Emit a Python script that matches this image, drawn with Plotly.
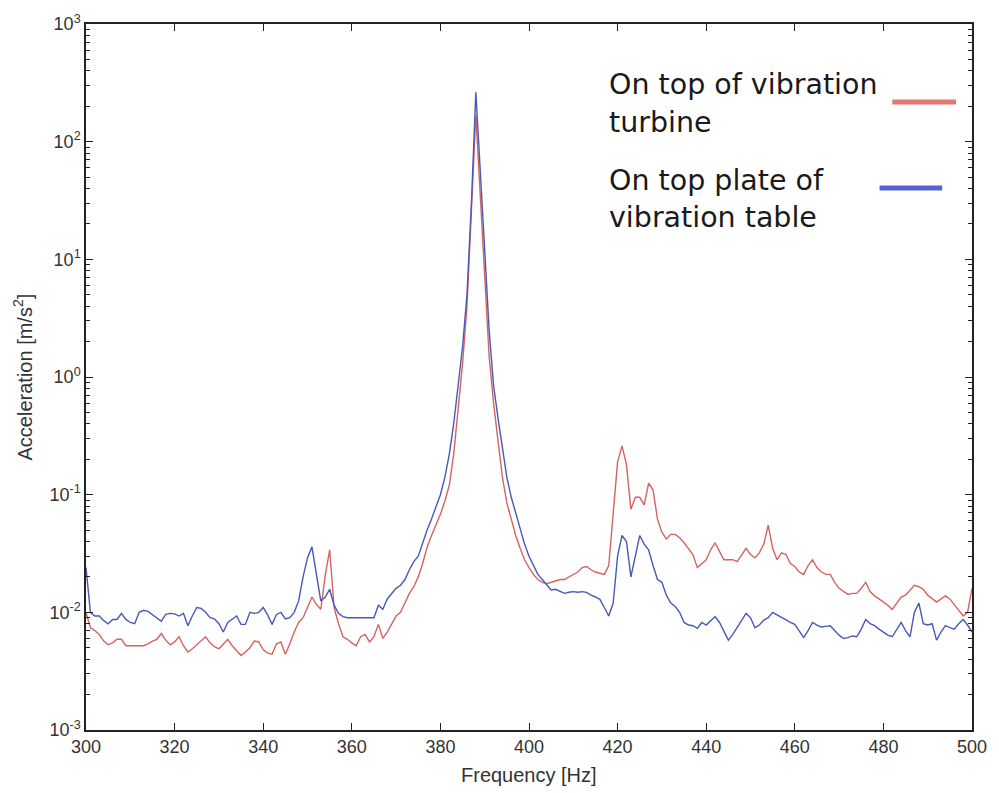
import plotly.graph_objects as go

freq_hz = list(range(300, 501))

table_acc = [
    0.024, 0.010, 0.0093, 0.0093, 0.0085, 0.0080, 0.0087, 0.0087, 0.0098, 0.0087,
    0.0082, 0.0080, 0.0100, 0.0104, 0.0102, 0.0096, 0.0090, 0.0084, 0.0096, 0.0098,
    0.0097, 0.0093, 0.0098, 0.0077, 0.0093, 0.0110, 0.0108, 0.0100, 0.0090, 0.0088,
    0.0080, 0.0068, 0.0082, 0.0088, 0.0093, 0.0079, 0.0079, 0.0100, 0.0098, 0.0100,
    0.0110, 0.0095, 0.0079, 0.0096, 0.0100, 0.0088, 0.0090, 0.0100, 0.0125, 0.0200,
    0.0290, 0.0360, 0.0210, 0.0125, 0.0135, 0.0157, 0.0115, 0.0098, 0.0092, 0.0090,
    0.0090, 0.0090, 0.0090, 0.0090, 0.0090, 0.0090, 0.0115, 0.0106, 0.0130, 0.0145,
    0.0160, 0.0170, 0.0190, 0.0230, 0.0270, 0.0300, 0.0390, 0.050, 0.062, 0.080,
    0.100, 0.140, 0.22, 0.40, 0.80, 1.8, 5.0, 30, 263, 50,
    12, 2.5, 0.85, 0.45, 0.25, 0.14, 0.095, 0.070, 0.050, 0.038,
    0.030, 0.025, 0.021, 0.019, 0.017, 0.0155, 0.0157, 0.015, 0.0145, 0.0148,
    0.015, 0.0148, 0.015, 0.0148, 0.014, 0.0135, 0.0129, 0.011, 0.0093, 0.012,
    0.030, 0.045, 0.040, 0.020, 0.030, 0.045, 0.038, 0.034, 0.025, 0.019,
    0.018, 0.014, 0.0120, 0.0112, 0.0100, 0.0082, 0.0078, 0.0077, 0.0073, 0.0082,
    0.0078, 0.0085, 0.0092, 0.0082, 0.0070, 0.0058, 0.0065, 0.0075, 0.0085, 0.0098,
    0.0090, 0.0074, 0.0078, 0.0086, 0.0090, 0.0100, 0.0095, 0.0090, 0.0086, 0.0082,
    0.0079, 0.0070, 0.0061, 0.0070, 0.0082, 0.0078, 0.0075, 0.0076, 0.0077, 0.0070,
    0.0064, 0.0060, 0.0061, 0.0063, 0.0062, 0.0072, 0.0087, 0.0080, 0.0077, 0.0072,
    0.0068, 0.0064, 0.0062, 0.0072, 0.0082, 0.0070, 0.0062, 0.0100, 0.0120, 0.0080,
    0.0078, 0.0080, 0.0058, 0.0068, 0.0077, 0.0074, 0.0072, 0.0080, 0.0087, 0.0078,
    0.0068,
]

turbine_acc = [
    0.0100, 0.0074, 0.0070, 0.0065, 0.0057, 0.0053, 0.0055, 0.0059, 0.0059, 0.0052,
    0.0052, 0.0052, 0.0052, 0.0052, 0.0054, 0.0057, 0.0059, 0.0066, 0.0058, 0.0053,
    0.0056, 0.0062, 0.0052, 0.0046, 0.0049, 0.0053, 0.0058, 0.0062, 0.0055, 0.0051,
    0.0049, 0.0054, 0.0059, 0.0052, 0.0047, 0.0043, 0.0046, 0.0050, 0.0057, 0.0056,
    0.0048, 0.0045, 0.0044, 0.0054, 0.0056, 0.0044, 0.0054, 0.0068, 0.0082, 0.0090,
    0.0110, 0.0135, 0.0117, 0.0106, 0.0205, 0.0340, 0.0110, 0.0080, 0.0062, 0.0059,
    0.0055, 0.0052, 0.0062, 0.0065, 0.0056, 0.0062, 0.0079, 0.0060, 0.0068, 0.0080,
    0.0093, 0.0100, 0.0120, 0.0145, 0.0165, 0.0200, 0.0260, 0.0360, 0.045, 0.055,
    0.068, 0.088, 0.12, 0.22, 0.50, 1.3, 4.0, 25, 169, 35,
    7.0, 1.5, 0.60, 0.28, 0.14, 0.085, 0.060, 0.045, 0.035, 0.028,
    0.024, 0.021, 0.019, 0.018, 0.0175, 0.018, 0.0185, 0.019, 0.019, 0.020,
    0.021, 0.022, 0.024, 0.0245, 0.023, 0.022, 0.0215, 0.021, 0.025, 0.070,
    0.19, 0.26, 0.18, 0.075, 0.095, 0.095, 0.082, 0.125, 0.11, 0.062,
    0.048, 0.042, 0.046, 0.046, 0.043, 0.039, 0.035, 0.031, 0.024, 0.026,
    0.028, 0.034, 0.039, 0.033, 0.028, 0.028, 0.028, 0.027, 0.031, 0.035,
    0.031, 0.029, 0.032, 0.038, 0.055, 0.035, 0.028, 0.032, 0.031, 0.026,
    0.0245, 0.022, 0.021, 0.025, 0.028, 0.024, 0.022, 0.021, 0.021, 0.018,
    0.016, 0.015, 0.0142, 0.0145, 0.0145, 0.016, 0.018, 0.015, 0.0138, 0.013,
    0.0123, 0.0115, 0.0106, 0.012, 0.0135, 0.014, 0.0155, 0.017, 0.0165, 0.0157,
    0.014, 0.013, 0.0122, 0.013, 0.0138, 0.013, 0.0117, 0.0105, 0.0093, 0.0100,
    0.0160,
]

legend_lines = [["On top of vibration", "turbine"], ["On top plate of", "vibration table"]]
y_tick_vals = [1e-3, 1e-2, 1e-1, 1e0, 1e1, 1e2, 1e3]
y_tick_text = ["10<sup>-3</sup>", "10<sup>-2</sup>", "10<sup>-1</sup>", "10<sup>0</sup>",
               "10<sup>1</sup>", "10<sup>2</sup>", "10<sup>3</sup>"]
x_tick_vals = [300, 320, 340, 360, 380, 400, 420, 440, 460, 480, 500]

RED = "#d4645f"
BLUE = "#4a58b8"

fig = go.Figure()
fig.add_trace(go.Scatter(x=freq_hz, y=turbine_acc, mode="lines",
                         line=dict(color=RED, width=1.4), showlegend=False))
fig.add_trace(go.Scatter(x=freq_hz, y=table_acc, mode="lines",
                         line=dict(color=BLUE, width=1.4), showlegend=False))

tick_font = dict(family="Liberation Sans, Arial, sans-serif", size=18, color="#333333")
title_font = dict(family="Liberation Sans, Arial, sans-serif", size=20, color="#333333")

fig.update_layout(
    width=999, height=793,
    margin=dict(l=86, r=21, t=24, b=63),
    paper_bgcolor="white", plot_bgcolor="white",
    showlegend=False,
)
fig.update_xaxes(
    range=[300, 500], tickvals=x_tick_vals, ticks="inside", ticklen=7,
    tickcolor="#222", showline=True, linecolor="#222", linewidth=1.5, mirror="ticks",
    showgrid=False, zeroline=False, tickfont=tick_font,
)
fig.update_yaxes(
    type="log", range=[-3, 3], tickvals=y_tick_vals, ticktext=y_tick_text,
    ticks="inside", ticklen=7, tickcolor="#222", showline=True, linecolor="#222",
    linewidth=1.5, mirror="ticks", showgrid=False, zeroline=False, tickfont=tick_font,
    minor=dict(ticks="inside", ticklen=4, tickcolor="#222", dtick="D1", showgrid=False),
)

# axis titles
fig.add_annotation(text="Frequency [Hz]", xref="paper", yref="paper", x=0.5, y=-0.0637,
                   xanchor="center", yanchor="middle", showarrow=False, font=title_font)
fig.add_annotation(text="Acceleration [m/s<sup>2</sup>]", xref="paper", yref="paper",
                   x=-0.0717, y=0.5, xanchor="center", yanchor="middle", textangle=-90,
                   showarrow=False, font=title_font)

# legend (text on left, line sample on right)
leg_font = dict(family="DejaVu Sans, Verdana, sans-serif", size=28.5, color="#1a1a1a")
leg_y = [[0.915, 0.861], [0.779, 0.7266]]
for lines, ys in zip(legend_lines, leg_y):
    for txt, yy in zip(lines, ys):
        fig.add_annotation(text=txt, xref="paper", yref="paper", x=0.588, y=yy,
                           xanchor="left", yanchor="middle", align="left", showarrow=False,
                           font=leg_font)
fig.add_shape(type="line", xref="paper", yref="paper", x0=0.910, x1=0.982, y0=0.8895, y1=0.8895,
              line=dict(color="#e07872", width=5))
fig.add_shape(type="line", xref="paper", yref="paper", x0=0.8957, x1=0.9664, y0=0.7677, y1=0.7677,
              line=dict(color="#5563cc", width=5))

fig.write_html("out.html")
